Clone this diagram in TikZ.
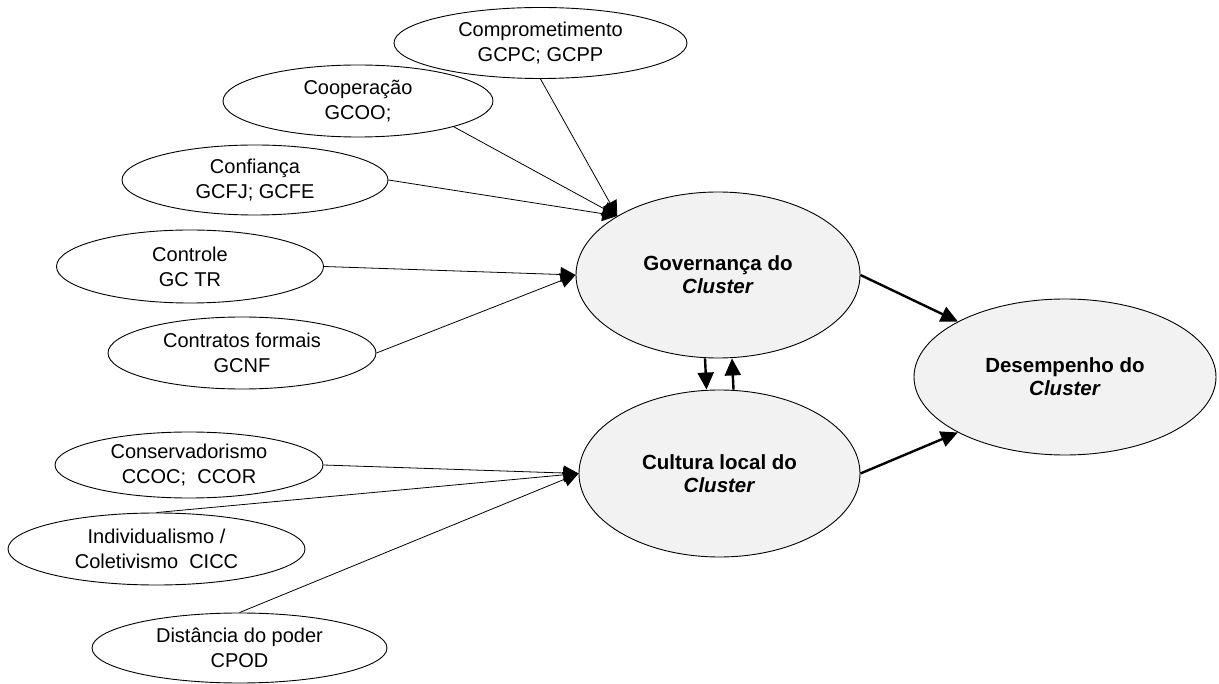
\documentclass[tikz,border=0pt]{standalone}
\usepackage{fontspec}
\setmainfont{Liberation Sans}
\usetikzlibrary{shapes.geometric,arrows.meta}
\definecolor{latentfill}{HTML}{F2F2F2}
\begin{document}
\begin{tikzpicture}[x=1pt,y=-1pt,
  indicator/.style={draw=black, line width=0.9pt, ellipse, inner sep=0pt, align=center,
    font=\fontsize{20}{25}\selectfont},
  latent/.style={draw=black, line width=0.9pt, ellipse, inner sep=0pt, align=center, fill=latentfill,
    font=\fontsize{20.5}{23}\selectfont\bfseries},
  thinarrow/.style={line width=0.8pt, -{Triangle[length=15pt,width=15pt]}},
  thickarrow/.style={line width=2.4pt, -{Triangle[length=17pt,width=16pt]}}
]
\useasboundingbox (0,0) rectangle (1219,684);
\fill[white] (0,0) rectangle (1219,684);

\node[indicator, minimum width=293pt, minimum height=71pt] (comp) at (540.5,43) {Comprometimento\\GCPC; GCPP};
\node[indicator, minimum width=270pt, minimum height=72pt] (coop) at (358,101) {Cooperação\\GCOO;};
\node[indicator, minimum width=266pt, minimum height=70pt] (conf) at (255,180) {Confiança\\GCFJ; GCFE};
\node[indicator, minimum width=267pt, minimum height=73pt] (cont) at (190,266.5) {Controle\\GC TR};
\node[indicator, minimum width=268pt, minimum height=72pt] (contr) at (242,353) {Contratos formais\\GCNF};
\node[indicator, minimum width=268pt, minimum height=66pt] (cons) at (189,465) {Conservadorismo\\CCOC;\ \ CCOR};
\node[indicator, minimum width=297pt, minimum height=72pt] (ind) at (156.5,549) {Individualismo /\\Coletivismo\ \ CICC};
\node[indicator, minimum width=295pt, minimum height=70pt] (dist) at (239.5,648) {Distância do poder\\CPOD};

\node[latent, minimum width=284pt, minimum height=166pt] (gov) at (718,275) {Governança do\\\textit{Cluster}};
\node[latent, minimum width=281pt, minimum height=167pt] (cul) at (719.5,473.5) {Cultura local do\\\textit{Cluster}};
\node[latent, minimum width=302pt, minimum height=156pt] (des) at (1065,377) {Desempenho do\\\textit{Cluster}};

\draw[thinarrow] (comp.south) -- (gov.north west);
\draw[thinarrow] (coop.south east) -- (gov.north west);
\draw[thinarrow] (conf.east) -- (gov.north west);
\draw[thinarrow] (cont.east) -- (gov.west);
\draw[thinarrow] (contr.east) -- (gov.west);
\draw[thinarrow] (cons.east) -- (cul.west);
\draw[thinarrow] (ind.north) -- (cul.west);
\draw[thinarrow] (dist.north) -- (cul.west);

\draw[thickarrow] (gov.east) -- (des.north west);
\draw[thickarrow] (cul.east) -- (des.south west);
\draw[thickarrow] ([xshift=-13pt]gov.south) -- ([xshift=-13pt]cul.north);
\draw[thickarrow] ([xshift=14pt]cul.north) -- ([xshift=14pt]gov.south);
\end{tikzpicture}
\end{document}
